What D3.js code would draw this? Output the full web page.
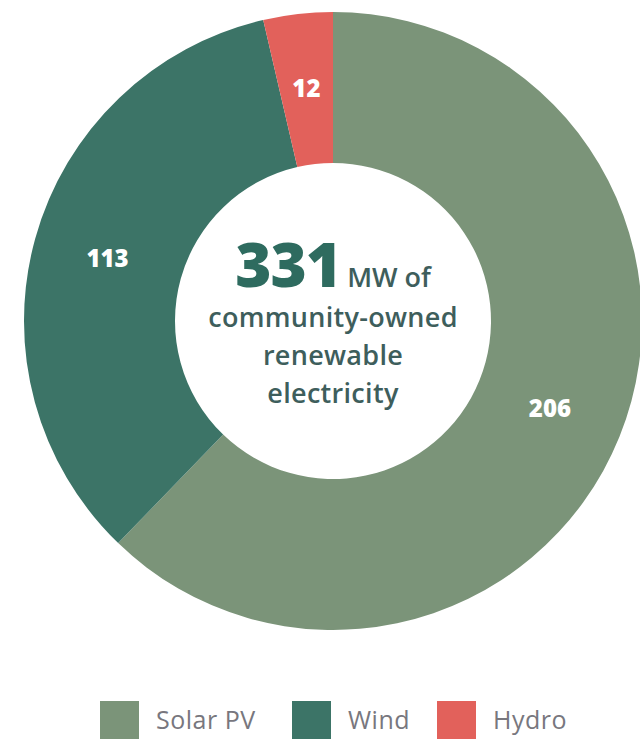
<!DOCTYPE html>
<html>
<head>
<meta charset="utf-8">
<script src="https://cdn.jsdelivr.net/npm/d3@7"></script>
<style>
  body { margin: 0; background: #fff; }
  svg { display: block; }
</style>
</head>
<body>
<svg id="chart" width="640" height="739"></svg>
<script>
// data
const categories = ["Solar PV", "Wind", "Hydro"];
const values = [206, 113, 12];
const colors = ["#7b9479", "#3c7467", "#e2615b"];
const total = 331;
const centerLines = ["community-owned", "renewable", "electricity"];

const svg = d3.select("#chart");
const cx = 333, cy = 321;
const outerR = 309, innerR = 158;

const pie = d3.pie().sort(null).value(d => d.value);
const arc = d3.arc().innerRadius(innerR).outerRadius(outerR);
const labelArc = d3.arc().innerRadius(234).outerRadius(234);

const data = categories.map((c, i) => ({ name: c, value: values[i], color: colors[i] }));
const arcs = pie(data);

const g = svg.append("g").attr("transform", `translate(${cx},${cy})`);

g.selectAll("path.slice")
  .data(arcs)
  .enter().append("path")
  .attr("class", "slice")
  .attr("d", arc)
  .attr("fill", d => d.data.color);

g.selectAll("text.val")
  .data(arcs)
  .enter().append("text")
  .attr("class", "val")
  .attr("transform", d => `translate(${labelArc.centroid(d)})`)
  .attr("text-anchor", "middle")
  .attr("dy", "0.35em")
  .style("font-family", "'Open Sans', sans-serif")
  .style("font-weight", 800)
  .style("font-size", "24px")
  .style("fill", "#fff")
  .text(d => d.data.value);

// centre text
const title = g.append("text")
  .attr("y", 287 - cy)
  .attr("text-anchor", "middle")
  .style("font-family", "'Open Sans', sans-serif");
title.append("tspan")
  .style("font-size", "62px")
  .style("font-weight", 800)
  .style("fill", "#2e6b5f")
  .style("letter-spacing", "-1px")
  .text(total);
title.append("tspan")
  .attr("dx", 6)
  .style("font-size", "27px")
  .style("font-weight", 600)
  .style("fill", "#3e5e5c")
  .text("MW of");

g.selectAll("text.line")
  .data(centerLines)
  .enter().append("text")
  .attr("class", "line")
  .attr("x", 0)
  .attr("y", (d, i) => 327 - cy + i * 38)
  .attr("text-anchor", "middle")
  .style("font-family", "'Open Sans', sans-serif")
  .style("font-size", "27px")
  .style("font-weight", 600)
  .style("letter-spacing", "0.3px")
  .style("fill", "#3e5e5c")
  .text(d => d);

// legend
const legendX = [100, 292, 437];
const legend = svg.selectAll("g.legend")
  .data(data)
  .enter().append("g")
  .attr("class", "legend")
  .attr("transform", (d, i) => `translate(${legendX[i]},701)`);
legend.append("rect")
  .attr("width", 39)
  .attr("height", 39)
  .attr("fill", d => d.color);
legend.append("text")
  .attr("x", 56)
  .attr("y", 19)
  .attr("dy", "0.35em")
  .style("font-family", "'Open Sans', sans-serif")
  .style("font-size", "25px")
  .style("letter-spacing", "0.5px")
  .style("fill", "#78777e")
  .text(d => d.name);
</script>
</body>
</html>
